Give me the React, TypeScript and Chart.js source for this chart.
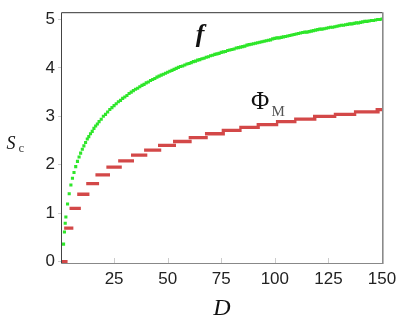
import React, { useEffect, useRef } from "react";
import { Chart, registerables } from "chart.js";

Chart.register(...registerables);

// x tick labels (D) and y tick labels (S_c)
const xTicks = [25, 50, 75, 100, 125, 150];
const yTicks = [0, 1, 2, 3, 4, 5];

// green dots: f(D)
const fD = [
  1.43, 1.84, 2.2, 2.51, 3.29, 4.06, 4.85, 5.58, 6.3, 7.1, 7.92, 8.67, 9.39, 10.18, 10.91,
  11.7, 12.5, 13.2, 14, 14.8, 15.6, 16.4, 17.2, 18, 19, 20,
  21, 22, 23, 24, 25, 26, 27, 28, 29, 30, 31, 32, 33, 34, 35, 36, 37, 38, 39, 40,
  41, 42, 43, 44, 45, 46, 47, 48, 49, 50, 51, 52, 53, 54, 55, 56, 57, 58, 59, 60,
  61, 62, 63, 64, 65, 66, 67, 68, 69, 70, 71, 72, 73, 74, 75, 76, 77, 78, 79, 80,
  81, 82, 83, 84, 85, 86, 87, 88, 89, 90, 91, 92, 93, 94, 95, 96, 97, 98, 99, 100,
  101, 102, 103, 104, 105, 106, 107, 108, 109, 110, 111, 112, 113, 114, 115, 116, 117, 118, 119, 120,
  121, 122, 123, 124, 125, 126, 127, 128, 129, 130, 131, 132, 133, 134, 135, 136, 137, 138, 139, 140,
  141, 142, 143, 144, 145, 146, 147, 148, 149, 150,
];
const fValues = [
  0.36, 0.61, 0.79, 0.92, 1.19, 1.4, 1.58, 1.72, 1.84, 1.96, 2.07, 2.16, 2.24, 2.32, 2.39,
  2.46, 2.53, 2.58, 2.64, 2.69, 2.75, 2.8, 2.84, 2.89, 2.94, 3.0,
  3.04, 3.09, 3.14, 3.18, 3.22, 3.26, 3.3, 3.33, 3.37, 3.4, 3.43, 3.47, 3.5, 3.53, 3.56, 3.58, 3.61, 3.64, 3.66, 3.69,
  3.71, 3.74, 3.76, 3.78, 3.81, 3.83, 3.85, 3.87, 3.89, 3.91, 3.93, 3.95, 3.97, 3.99, 4.01, 4.03, 4.04, 4.06, 4.08, 4.09,
  4.11, 4.13, 4.14, 4.16, 4.17, 4.19, 4.2, 4.22, 4.23, 4.25, 4.26, 4.28, 4.29, 4.3, 4.32, 4.33, 4.34, 4.36, 4.37, 4.38,
  4.39, 4.41, 4.42, 4.43, 4.44, 4.45, 4.47, 4.48, 4.49, 4.5, 4.51, 4.52, 4.53, 4.54, 4.55, 4.56, 4.57, 4.58, 4.6, 4.61,
  4.62, 4.62, 4.63, 4.64, 4.65, 4.66, 4.67, 4.68, 4.69, 4.7, 4.71, 4.72, 4.73, 4.74, 4.74, 4.75, 4.76, 4.77, 4.78, 4.79,
  4.8, 4.8, 4.81, 4.82, 4.83, 4.84, 4.84, 4.85, 4.86, 4.87, 4.88, 4.88, 4.89, 4.9, 4.91, 4.91, 4.92, 4.93, 4.93, 4.94,
  4.95, 4.96, 4.96, 4.97, 4.98, 4.98, 4.99, 5.0, 5.0, 5.01,
];

// red steps: Phi_M levels and the D range each step covers
const phiLevels = [
  0, 0.69, 1.1, 1.39, 1.61, 1.79, 1.95, 2.08, 2.2, 2.3, 2.4, 2.48, 2.56, 2.64, 2.71, 2.77,
  2.83, 2.89, 2.94, 3.0, 3.04, 3.09, 3.14,
];
const phiStart = [
  0.3, 1.7, 4.2, 7.8, 12.0, 16.3, 21.4, 26.9, 32.9, 39.0, 45.5, 52.5, 59.8, 67.4, 75.2, 83.4,
  91.5, 100.5, 109.0, 117.8, 127.5, 136.9, 147.0,
];
const phiEnd = [
  3.3, 6.0, 9.5, 13.5, 18.0, 23.1, 28.6, 34.3, 40.5, 47.0, 53.9, 61.2, 68.7, 76.7, 84.5, 93.0,
  101.6, 110.1, 119.4, 128.7, 138.0, 148.9, 152,
];

const GREEN = "#2ee62a";
const RED = "#d34848";

export default function App() {
  const ref = useRef<HTMLCanvasElement | null>(null);

  useEffect(() => {
    if (!ref.current) return;

    const fData = fD.map((d, i) => ({ x: d, y: fValues[i] }));
    const phiData: { x: number; y: number | null }[] = [];
    phiLevels.forEach((v, i) => {
      phiData.push({ x: phiStart[i], y: v });
      phiData.push({ x: phiEnd[i], y: v });
      phiData.push({ x: phiEnd[i], y: null });
    });

    const framePlugin = {
      id: "frame",
      afterDatasetsDraw(chart: any) {
        const ctx = chart.ctx;
        const a = chart.chartArea;
        const xs = chart.scales.x;
        ctx.save();
        // inward x ticks
        ctx.strokeStyle = "#cccccc";
        ctx.lineWidth = 1;
        xTicks.forEach((t) => {
          const px = Math.round(xs.getPixelForValue(t)) + 0.5;
          ctx.beginPath();
          ctx.moveTo(px, a.bottom);
          ctx.lineTo(px, a.bottom - 5);
          ctx.stroke();
        });
        // frame
        ctx.lineWidth = 1;
        ctx.strokeStyle = "#333333";
        ctx.beginPath();
        ctx.moveTo(a.left - 0.5, a.top - 0.5);
        ctx.lineTo(a.right + 0.5, a.top - 0.5);
        ctx.stroke();
        ctx.strokeStyle = "#444444";
        ctx.beginPath();
        ctx.moveTo(a.left - 0.5, a.top - 0.5);
        ctx.lineTo(a.left - 0.5, a.bottom + 0.5);
        ctx.stroke();
        ctx.strokeStyle = "#888888";
        ctx.beginPath();
        ctx.moveTo(a.left - 0.5, a.bottom + 0.5);
        ctx.lineTo(a.right + 0.5, a.bottom + 0.5);
        ctx.stroke();
        ctx.lineWidth = 1.6;
        ctx.strokeStyle = "#8a8a8a";
        ctx.beginPath();
        ctx.moveTo(a.right + 0.8, a.top - 1);
        ctx.lineTo(a.right + 0.8, a.bottom + 1);
        ctx.stroke();

        // texts
        ctx.fillStyle = "#111111";
        ctx.textBaseline = "alphabetic";
        // x title
        ctx.textAlign = "center";
        ctx.font = "italic 24px 'Liberation Serif', serif";
        ctx.fillText("D", (a.left + a.right) / 2, 315);
        // y title S_c
        ctx.textAlign = "left";
        ctx.font = "italic 18px 'Liberation Serif', serif";
        ctx.fillText("S", 6.5, 148.5);
        ctx.fillStyle = "#444444";
        ctx.font = "13px 'Liberation Serif', serif";
        ctx.fillText("c", 18.5, 151.5);
        // f label
        ctx.fillStyle = "#111111";
        ctx.textAlign = "center";
        ctx.font = "italic bold 26px 'Liberation Serif', serif";
        ctx.fillText("f", 200, 42);
        // Phi_M label
        ctx.textAlign = "left";
        ctx.font = "25px 'Liberation Serif', serif";
        ctx.fillText("Φ", 251, 108.5);
        ctx.fillStyle = "#555555";
        ctx.font = "15px 'Liberation Serif', serif";
        ctx.fillText("M", 271.5, 115.5);
        ctx.restore();
      },
    };

    const chart = new Chart(ref.current, {
      type: "scatter",
      data: {
        datasets: [
          {
            label: "Phi_M",
            data: phiData as any,
            showLine: true,
            spanGaps: false,
            borderColor: RED,
            borderWidth: 3.3,
            borderCapStyle: "butt",
            pointRadius: 0,
            pointHoverRadius: 0,
            clip: 0 as any,
          },
          {
            label: "f",
            data: fData,
            showLine: false,
            pointStyle: "rect",
            pointRadius: 2.2,
            pointBorderWidth: 0,
            pointBackgroundColor: GREEN,
            backgroundColor: GREEN,
            borderWidth: 0,
            clip: 0 as any,
          },
        ],
      },
      options: {
        responsive: false,
        animation: false,
        events: [],
        layout: { padding: { left: 0, right: 31, top: 12, bottom: 0 } },
        plugins: {
          legend: { display: false },
          tooltip: { enabled: false },
          title: { display: false },
        },
        scales: {
          x: {
            type: "linear",
            min: 0.7,
            max: 150,
            afterFit: (s: any) => {
              s.height = 57;
            },
            afterBuildTicks: (s: any) => {
              s.ticks = xTicks.map((v) => ({ value: v }));
            },
            grid: { display: false, drawTicks: false },
            border: { display: false },
            ticks: {
              padding: 6,
              color: "#222222",
              font: { family: "'Liberation Sans', Arial, sans-serif", size: 17 },
              maxRotation: 0,
              autoSkip: false,
            },
          },
          y: {
            type: "linear",
            min: -0.03,
            max: 5.13,
            afterFit: (s: any) => {
              s.width = 62;
            },
            afterBuildTicks: (s: any) => {
              s.ticks = yTicks.map((v) => ({ value: v }));
            },
            grid: {
              drawOnChartArea: false,
              drawTicks: true,
              tickLength: 4,
              color: "#cccccc",
            },
            border: { display: false },
            ticks: {
              padding: 3,
              color: "#222222",
              font: { family: "'Liberation Sans', Arial, sans-serif", size: 17 },
              autoSkip: false,
            },
          },
        },
      },
      plugins: [framePlugin],
    });

    return () => chart.destroy();
  }, []);

  return (
    <div
      style={{
        position: "fixed",
        left: 0,
        top: 0,
        width: 413,
        height: 320,
        background: "#ffffff",
      }}
    >
      <canvas ref={ref} width={413} height={320} />
    </div>
  );
}
